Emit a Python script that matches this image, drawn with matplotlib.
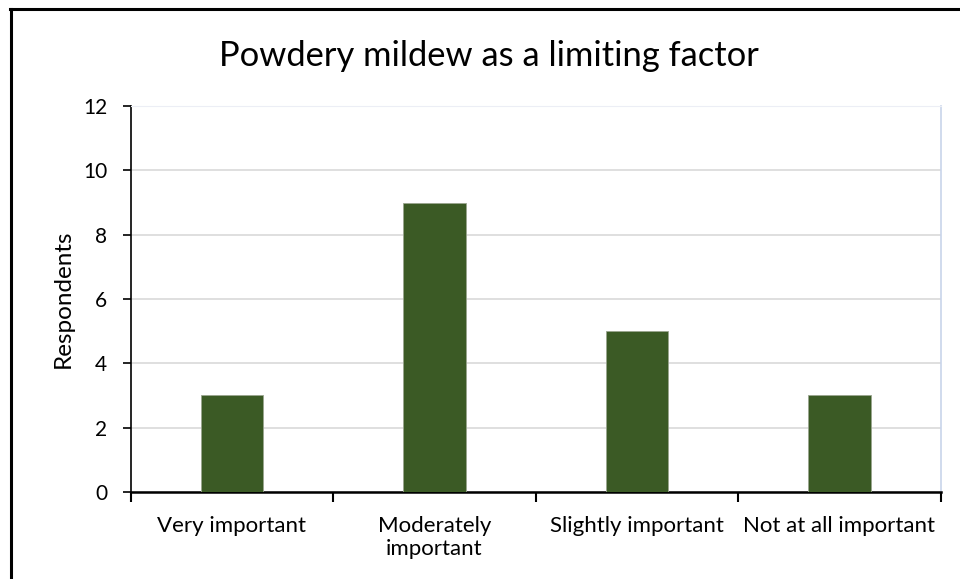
import matplotlib

matplotlib.use("Agg")

import matplotlib.pyplot as plt
from matplotlib.lines import Line2D

categories = [
    "Very important",
    "Moderately\nimportant",
    "Slightly important",
    "Not at all important",
]
respondents = [3, 9, 5, 3]
y_ticks = [0, 2, 4, 6, 8, 10, 12]

plt.rcParams["font.family"] = ["Lato", "DejaVu Sans"]

figure = plt.figure(figsize=(9.6, 5.79), dpi=100)
axis = figure.add_axes([0.1361, 0.1503, 0.8438, 0.6666])

positions = list(range(len(categories)))
axis.bar(
    positions,
    respondents,
    width=0.31,
    color="#3b5a25",
    edgecolor="#9aa58f",
    linewidth=0.6,
    zorder=3,
)

axis.set_xlim(-0.5, len(categories) - 0.5)
axis.set_ylim(0, 12)
axis.set_yticks(y_ticks)
axis.set_yticklabels([str(v) for v in y_ticks], fontsize=15)

# category labels sit between the boundary tick marks
axis.set_xticks(positions)
axis.set_xticklabels(categories, fontsize=16, linespacing=1.2)
axis.set_xticks([p - 0.5 for p in positions] + [len(categories) - 0.5], minor=True)
axis.tick_params(axis="x", which="major", length=0, pad=17)
axis.tick_params(axis="x", which="minor", length=7, width=1.5, direction="out")
axis.tick_params(axis="y", length=6, width=1.2, direction="out", pad=11)

axis.grid(axis="y", color="#d9d9d9", linewidth=1.2, zorder=0)
axis.set_axisbelow(True)

axis.spines["bottom"].set_linewidth(1.8)
axis.spines["left"].set_linewidth(1.2)
axis.spines["top"].set_color("#eceef5")
axis.spines["right"].set_color("#c8d4ea")
axis.spines["right"].set_linewidth(1.2)

axis.set_ylabel("Respondents", fontsize=17.5)
axis.yaxis.set_label_coords(-0.07, 0.5)
figure.text(0.509, 1 - 66 / 579, "Powdery mildew as a limiting factor",
            fontsize=24.8, ha="center", va="baseline")

# outer chart border (only left and top edges fall inside the canvas)
figure.add_artist(Line2D([10.5 / 960, 10.5 / 960], [0, 1 - 9 / 579],
                         color="black", linewidth=2.2))
figure.add_artist(Line2D([10 / 960, 1], [1 - 9 / 579, 1 - 9 / 579],
                         color="black", linewidth=2.2))

figure.savefig("out.png", dpi=100)
plt.close(figure)
